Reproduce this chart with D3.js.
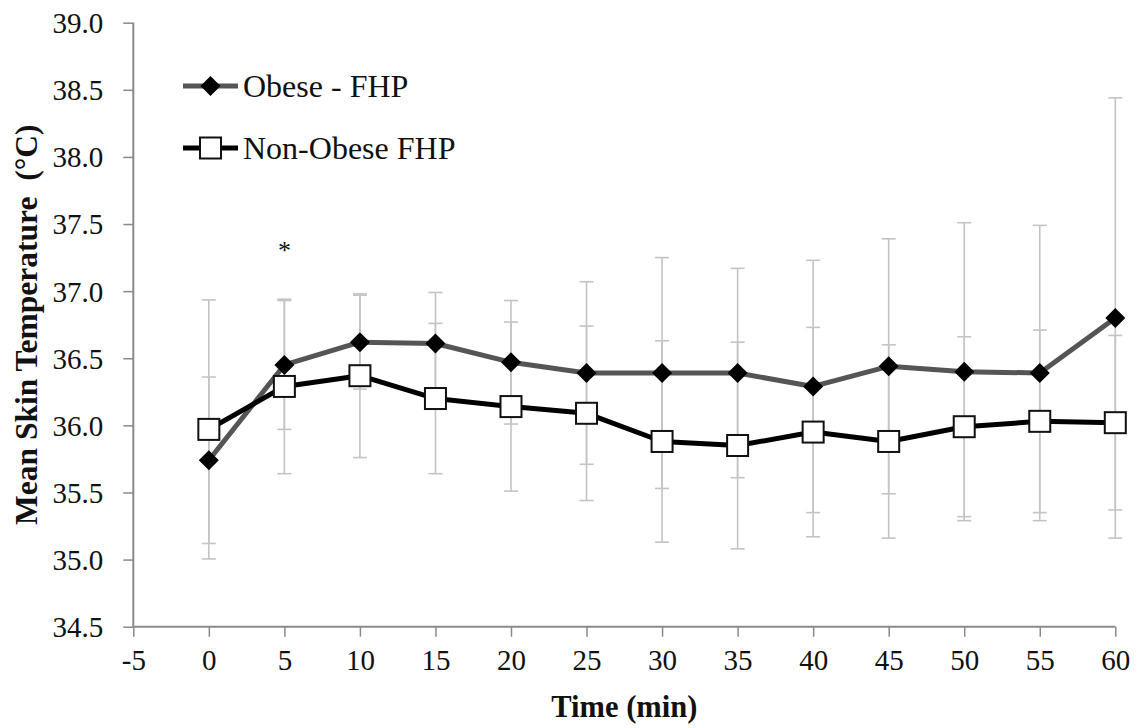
<!DOCTYPE html>
<html>
<head>
<meta charset="utf-8">
<script src="https://cdn.jsdelivr.net/npm/d3@7"></script>
<style>
  html, body { margin: 0; padding: 0; background: #fff; }
  svg text { font-family: "Liberation Serif", "Times New Roman", serif; fill: #111; }
</style>
</head>
<body>
<svg id="chart" width="1137" height="728"></svg>
<script>
// Sampling times (min)
const times = [0, 5, 10, 15, 20, 25, 30, 35, 40, 45, 50, 55, 60];

// Mean skin temperature (°C) and standard deviation per group
const obeseMean = [35.74, 36.45, 36.62, 36.61, 36.47, 36.39, 36.39, 36.39, 36.29, 36.44, 36.40, 36.39, 36.80];
const obeseSD   = [0.62, 0.48, 0.35, 0.38, 0.46, 0.68, 0.86, 0.78, 0.94, 0.95, 1.11, 1.10, 1.64];
const nonObeseMean = [35.97, 36.29, 36.37, 36.20, 36.14, 36.09, 35.88, 35.85, 35.95, 35.88, 35.99, 36.03, 36.02];
const nonObeseSD   = [0.965, 0.65, 0.61, 0.56, 0.63, 0.65, 0.75, 0.77, 0.78, 0.72, 0.67, 0.68, 0.65];

// Axis ticks
const xTicks = [-5, 0, 5, 10, 15, 20, 25, 30, 35, 40, 45, 50, 55, 60];
const yTicks = [34.5, 35.0, 35.5, 36.0, 36.5, 37.0, 37.5, 38.0, 38.5, 39.0];

// Significance marker
const sigTimes = [5];
const sigLevel = 37.3;

const legendLabels = ["Obese - FHP", "Non-Obese FHP"];

const svg = d3.select("#chart");

const x = d3.scaleLinear().domain([-5, 60]).range([133.3, 1115.3]);
const y = d3.scaleLinear().domain([34.5, 39.0]).range([626.7, 22.7]);

const axisColor = "#8a8a8a";
const errColor = "#c4c4c4";

// Axes
const xAxis = svg.append("g")
  .attr("transform", `translate(0,${y(34.5)})`)
  .call(d3.axisBottom(x).tickValues(xTicks).tickSize(10).tickPadding(13).tickFormat(d => String(d)));
const yAxis = svg.append("g")
  .attr("transform", `translate(${x(-5)},0)`)
  .call(d3.axisLeft(y).tickValues(yTicks).tickSize(10).tickPadding(20).tickFormat(d3.format(".1f")));

[xAxis, yAxis].forEach(g => {
  g.select(".domain").attr("stroke", axisColor).attr("stroke-width", 2);
  g.selectAll(".tick line").attr("stroke", axisColor).attr("stroke-width", 1.5);
  g.selectAll(".tick text")
    .style("font-family", '"Liberation Serif", "Times New Roman", serif')
    .style("font-size", "29px").attr("fill", "#111");
});
// Draw the domains without end-cap ticks
xAxis.select(".domain").attr("d", `M${x(-5)},0H${x(60)}`);
yAxis.select(".domain").attr("d", `M0,${y(39.0)}V${y(34.5)}`);
yAxis.selectAll(".tick text").attr("dy", "0.34em");

// Error bars
function errorBars(means, sds) {
  const g = svg.append("g").attr("stroke", errColor).attr("stroke-width", 1.6).attr("fill", "none");
  const cap = 7;
  times.forEach((t, i) => {
    const cx = x(t), hi = y(means[i] + sds[i]), lo = y(means[i] - sds[i]);
    g.append("line").attr("x1", cx).attr("x2", cx).attr("y1", hi).attr("y2", lo);
    g.append("line").attr("x1", cx - cap).attr("x2", cx + cap).attr("y1", hi).attr("y2", hi);
    g.append("line").attr("x1", cx - cap).attr("x2", cx + cap).attr("y1", lo).attr("y2", lo);
  });
}
errorBars(obeseMean, obeseSD);
errorBars(nonObeseMean, nonObeseSD);

const line = d3.line().x(d => x(d[0])).y(d => y(d[1]));
const obesePts = times.map((t, i) => [t, obeseMean[i]]);
const nonPts = times.map((t, i) => [t, nonObeseMean[i]]);

const diamond = d3.symbol().type(d3.symbolSquare).size(200);

// Obese - FHP series
svg.append("path").datum(obesePts).attr("d", line)
  .attr("fill", "none").attr("stroke", "#555").attr("stroke-width", 5).attr("stroke-linejoin", "round");
svg.append("g").selectAll("path").data(obesePts).join("path")
  .attr("d", diamond)
  .attr("transform", d => `translate(${x(d[0])},${y(d[1])}) rotate(45)`)
  .attr("fill", "#000");

// Non-Obese FHP series
svg.append("path").datum(nonPts).attr("d", line)
  .attr("fill", "none").attr("stroke", "#000").attr("stroke-width", 5).attr("stroke-linejoin", "round");
const sq = 21;
svg.append("g").selectAll("rect").data(nonPts).join("rect")
  .attr("x", d => x(d[0]) - sq / 2).attr("y", d => y(d[1]) - sq / 2)
  .attr("width", sq).attr("height", sq)
  .attr("fill", "#fff").attr("stroke", "#111").attr("stroke-width", 2);

// Significance asterisk
svg.append("g").selectAll("text").data(sigTimes).join("text")
  .attr("x", d => x(d)).attr("y", y(sigLevel) + 8)
  .attr("text-anchor", "middle").style("font-size", "26px").text("*");

// Legend
const legend = svg.append("g");
const lx0 = 183, lx1 = 238;
legend.append("line").attr("x1", lx0).attr("x2", lx1).attr("y1", 86).attr("y2", 86)
  .attr("stroke", "#555").attr("stroke-width", 5);
legend.append("path").attr("d", diamond)
  .attr("transform", `translate(${(lx0 + lx1) / 2},86) rotate(45)`).attr("fill", "#000");
legend.append("text").attr("x", 243).attr("y", 97).style("font-size", "32px").text(legendLabels[0]);

legend.append("line").attr("x1", lx0).attr("x2", lx1).attr("y1", 148).attr("y2", 148)
  .attr("stroke", "#000").attr("stroke-width", 5);
legend.append("rect").attr("x", (lx0 + lx1) / 2 - sq / 2).attr("y", 148 - sq / 2)
  .attr("width", sq).attr("height", sq).attr("fill", "#fff").attr("stroke", "#111").attr("stroke-width", 2);
legend.append("text").attr("x", 243).attr("y", 159).style("font-size", "32px").text(legendLabels[1]);

// Axis titles
svg.append("text").attr("x", x(27.5)).attr("y", 717).attr("text-anchor", "middle")
  .style("font-size", "30.5px").style("font-weight", "bold").text("Time (min)");
svg.append("text").attr("transform", `translate(37,${y(36.75)}) rotate(-90)`)
  .attr("text-anchor", "middle").style("font-size", "31.5px").style("font-weight", "bold")
  .style("white-space", "pre").text("Mean Skin Temperature  (°C)");
</script>
</body>
</html>
